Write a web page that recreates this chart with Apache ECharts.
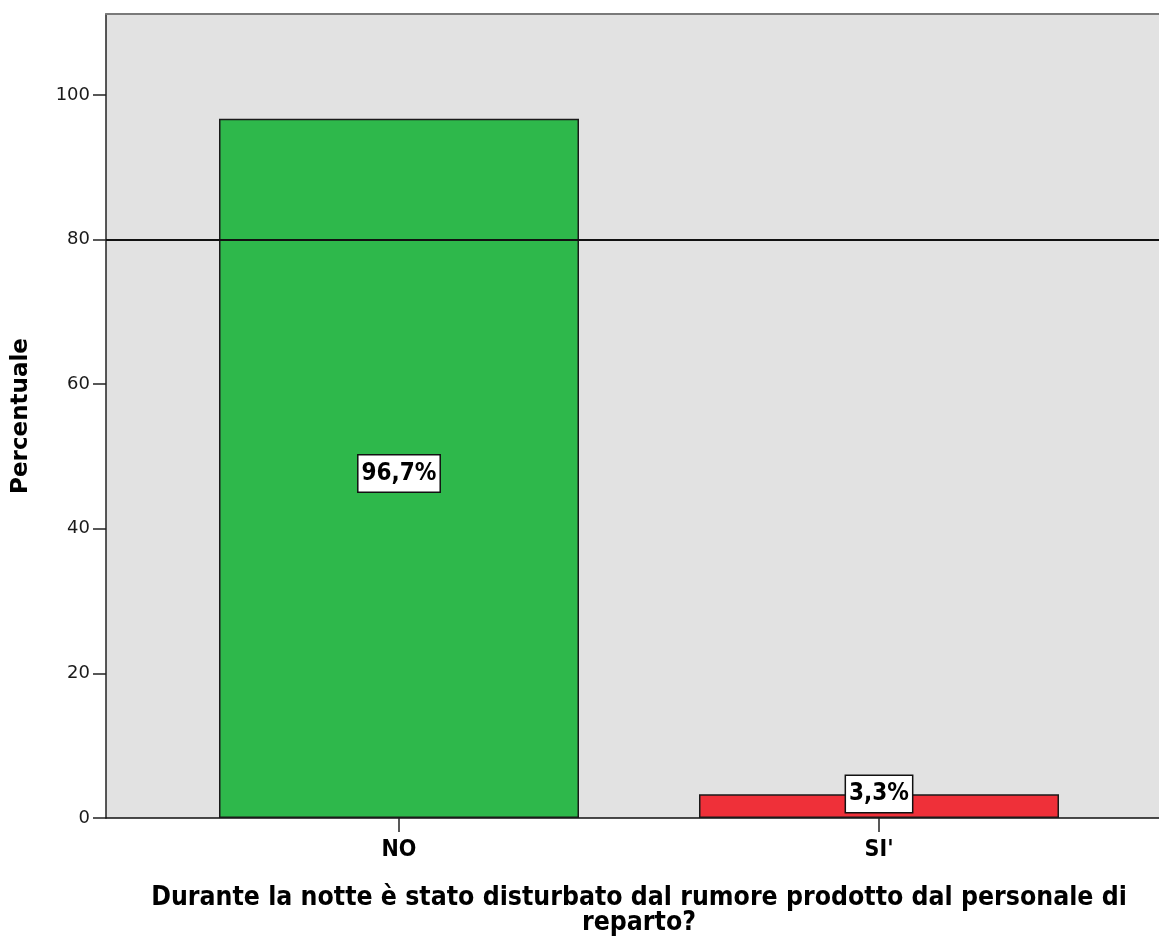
<!DOCTYPE html>
<html>
<head>
<meta charset="utf-8">
<script src="https://cdn.jsdelivr.net/npm/echarts@6/dist/echarts.min.js"></script>
<style>
html,body{margin:0;padding:0;background:#fff;}
#chart{width:1159px;height:942px;}
</style>
</head>
<body>
<div id="chart"></div>
<script>
var categories = ["NO", "SI'"];
var percentValues = [96.7, 3.3];
var valueLabels = ["96,7%", "3,3%"];
var yTicks = [0, 20, 40, 60, 80, 100];
var referenceLine = [80];
var barColors = ['#2EB84B', '#EF3039'];
var xTitle = "Durante la notte è stato disturbato dal rumore prodotto dal personale di\nreparto?";
var yTitle = "Percentuale";

var Y_MAX = 111.2;
var labelOffsets = [[0, 5], [0, -12]];

var chart = echarts.init(document.getElementById('chart'), null, {renderer: 'canvas'});

var barData = percentValues.map(function (v, i) {
  return {
    value: v,
    itemStyle: {color: barColors[i]},
    label: {offset: labelOffsets[i]}
  };
});

chart.setOption({
  animation: false,
  backgroundColor: '#ffffff',
  grid: [
    {left: 106, top: 14, right: -20, bottom: 124, show: true, backgroundColor: '#E2E2E2', borderWidth: 0, containLabel: false, outerBoundsMode: 'none'},
    {left: 159, top: 14, width: 960, bottom: 124, containLabel: false, outerBoundsMode: 'none'}
  ],
  xAxis: [
    {gridIndex: 0, type: 'value', min: 0, max: 1, position: 'bottom',
     axisLine: {show: true, onZero: false, lineStyle: {color: '#111', width: 1.5}},
     axisTick: {show: false}, axisLabel: {show: false}, splitLine: {show: false}},
    {gridIndex: 0, type: 'value', min: 0, max: 1, position: 'top',
     axisLine: {show: true, onZero: false, lineStyle: {color: '#7a7a7a', width: 2}},
     axisTick: {show: false}, axisLabel: {show: false}, splitLine: {show: false}},
    {gridIndex: 1, type: 'category', data: categories, position: 'bottom',
     axisLine: {show: false},
     axisTick: {show: true, alignWithLabel: true, inside: false, length: 14, lineStyle: {color: '#222', width: 1.5}},
     axisLabel: {margin: 21, color: '#000', fontFamily: 'DejaVu Sans Condensed, DejaVu Sans', fontWeight: 'bold', fontSize: 23},
     name: xTitle, nameLocation: 'middle', nameGap: 68,
     nameTextStyle: {color: '#000', fontFamily: 'DejaVu Sans Condensed, DejaVu Sans', fontWeight: 'bold', fontSize: 26.4, lineHeight: 25, align: 'center'}}
  ],
  yAxis: [
    {gridIndex: 0, type: 'value', min: 0, max: Y_MAX,
     axisLine: {show: true, lineStyle: {color: '#222', width: 1.5}},
     axisTick: {show: true, inside: false, length: 13, customValues: yTicks, lineStyle: {color: '#222', width: 1.5}},
     axisLabel: {show: true, customValues: yTicks, margin: 16, color: '#1a1a1a', fontFamily: 'DejaVu Sans', fontSize: 18},
     splitLine: {show: false},
     name: yTitle, nameLocation: 'middle', nameGap: 73, nameRotate: 90,
     nameTextStyle: {color: '#000', fontFamily: 'DejaVu Sans', fontWeight: 'bold', fontSize: 23}},
    {gridIndex: 1, type: 'value', min: 0, max: Y_MAX, show: false, splitLine: {show: false}}
  ],
  series: [
    {
      type: 'line', xAxisIndex: 0, yAxisIndex: 0, data: [], silent: true,
      markLine: {
        silent: true, symbol: 'none', label: {show: false},
        lineStyle: {color: '#111', width: 2, type: 'solid'},
        data: referenceLine.map(function (v) { return {yAxis: v}; })
      }
    },
    {
      type: 'bar', xAxisIndex: 2, yAxisIndex: 1, data: barData, barWidth: 360,
      itemStyle: {borderColor: '#1a1a1a', borderWidth: 1.5},
      label: {
        show: true, position: 'inside',
        formatter: function (p) { return valueLabels[p.dataIndex]; },
        color: '#000', fontFamily: 'Liberation Sans Narrow, DejaVu Sans Condensed, Arial Narrow', fontWeight: 'bold', fontSize: 24,
        backgroundColor: '#fff', borderColor: '#111', borderWidth: 1.5, padding: [7, 3, 5, 3]
      }
    }
  ]
});
</script>
</body>
</html>
